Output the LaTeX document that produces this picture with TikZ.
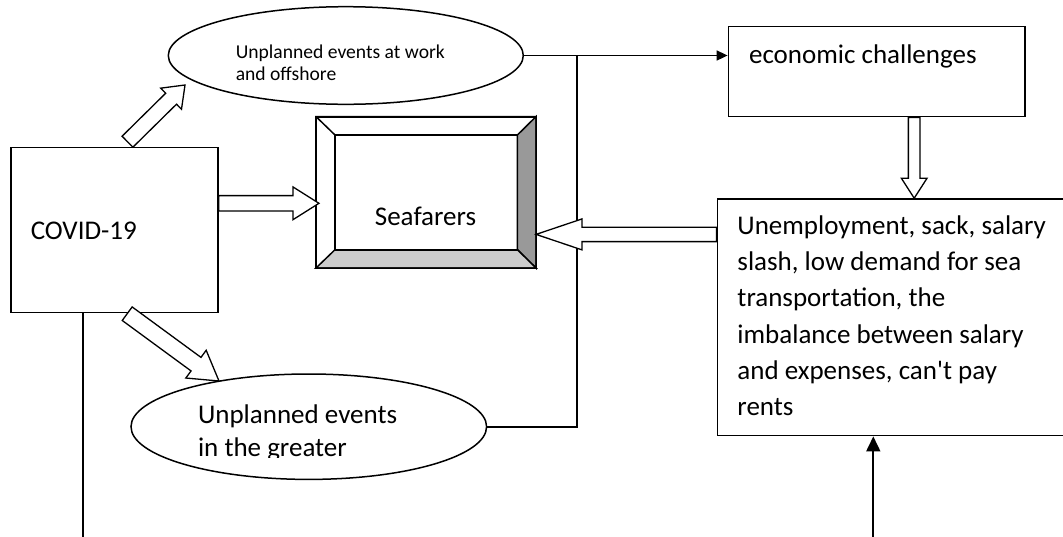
\documentclass[tikz,border=0pt]{standalone}
\usepackage{fontspec}
\setmainfont{Carlito}[Ligatures=TeXOff]
\usetikzlibrary{calc,arrows.meta,shapes.geometric}

% hollow block arrow: from, to, half shaft width, half head width, head length (in pt)
\newcommand\hollowarrow[5]{%
  \draw[blockarrow]
    ($(#1)!#3pt!90:(#2)$)
    -- ($(#2)!#5pt!(#1)!#3pt!-90:(#1)$)
    -- ($(#2)!#5pt!(#1)!#4pt!-90:(#1)$)
    -- (#2)
    -- ($(#2)!#5pt!(#1)!#4pt!90:(#1)$)
    -- ($(#2)!#5pt!(#1)!#3pt!90:(#1)$)
    -- ($(#1)!#3pt!-90:(#2)$)
    -- cycle;}

\begin{document}
\begin{tikzpicture}[x=1pt,y=-1pt,
  line width=1.5pt,
  box/.style={draw,rectangle,inner sep=0pt,fill=white},
  oval/.style={draw,ellipse,inner sep=0pt,fill=white},
  txt/.style={inner sep=0pt,anchor=base west,align=left,font=\fontsize{27}{36.3}\selectfont},
  blockarrow/.style={draw,fill=white,line width=1.3pt,line join=miter},
  conn/.style={draw,line width=1.7pt},
  tip/.style={-{Triangle[length=11pt,width=10pt]}}]
\useasboundingbox (0,0) rectangle (1063,536);

% boxes and ovals (multi-line texts are placed by their last baseline)
\node[box,minimum width=207,minimum height=165.4] (covid) at (114.4,230) {};
\node[txt] (covidt) at (30,239.3) {COVID-19};

\node[oval,minimum width=355,minimum height=97.6] (work) at (345.8,55.5) {};
\node[txt,font=\fontsize{19.6}{21.7}\selectfont] (workt) at (235,80)
  {Unplanned events at work\\and offshore};

\node[oval,minimum width=355.6,minimum height=105.4] (greater) at (308.8,426.7) {};
\begin{scope}
  \clip (120,370) rectangle (500,457);
  \node[txt,font=\fontsize{27}{33}\selectfont] (greatert) at (197.3,456.3)
    {Unplanned events\\in the greater};
\end{scope}

\node[box,minimum width=296.7,minimum height=90] (econ) at (876.7,71.7) {};
\node[txt] (econt) at (748.3,63.3) {economic challenges};

\node[box,minimum width=360,minimum height=236.7] (unemp) at (897.3,317.3) {};
\node[txt] (unempt) at (736.7,415.8)
  {Unemployment, sack, salary\\slash, low demand for sea\\transportation, the\\imbalance between salary\\and expenses, can't pay\\rents};

% bevelled box
\node[box,minimum width=218.6,minimum height=150] (sea) at (426,192.3) {};
\coordinate (sin1) at ($(sea.north west)+(19,18.4)$);
\coordinate (sin2) at ($(sea.north east)+(-18.6,18.4)$);
\coordinate (sin3) at ($(sea.south east)+(-18.6,-18.3)$);
\coordinate (sin4) at ($(sea.south west)+(19,-18.3)$);
\filldraw[fill=black!40,line join=miter] (sea.north east) -- (sea.south east) -- (sin3) -- (sin2) -- cycle;
\filldraw[fill=black!20,line join=miter] (sea.south west) -- (sea.south east) -- (sin3) -- (sin4) -- cycle;
\draw (sea.north west) -- (sin1) (sea.north west) rectangle (sea.south east);
\draw (sin1) rectangle (sin3);
\node[inner sep=0pt,anchor=base,font=\fontsize{27}{33}\selectfont] (seat) at (425.5,225) {Seafarers};

% connectors
\coordinate (join) at (work.east -| 577.3,0);
\draw[conn] (greater.east) -| (join);
\draw[conn,tip] (work.east) -- (work.east -| econ.west);
\coordinate (covidfoot) at (83.3,540);
\draw[conn] (covid.south -| covidfoot) -- (covidfoot);
\coordinate (unempfoot) at (873.3,540);
\draw[conn,-{Triangle[length=15pt,width=14pt]}] (unempfoot) -- (unempfoot |- unemp.south);

% block arrows
\coordinate (a1s) at (127.5,141.7);
\coordinate (a1e) at (185,85);
\hollowarrow{a1s}{a1e}{7.7}{14.8}{19.5}

\coordinate (a2s) at (127.2,313.7);
\coordinate (a2e) at (219,381);
\hollowarrow{a2s}{a2e}{8.4}{17.2}{28.5}

\coordinate (a3s) at ($(covid.east)+(0,-26.7)$);
\coordinate (a3e) at ($(sea.west |- a3s)+(3,0)$);
\hollowarrow{a3s}{a3e}{7.7}{16.4}{26}

\coordinate (a4s) at (unemp.west |- 0,234.4);
\coordinate (a4e) at (sea.east |- a4s);
\hollowarrow{a4s}{a4e}{7.2}{15.5}{46}

\coordinate (a5s) at (econ.south -| 914.2,0);
\coordinate (a5e) at (unemp.north -| 914.2,0);
\hollowarrow{a5s}{a5e}{5.85}{12.85}{20}
\end{tikzpicture}
\end{document}
